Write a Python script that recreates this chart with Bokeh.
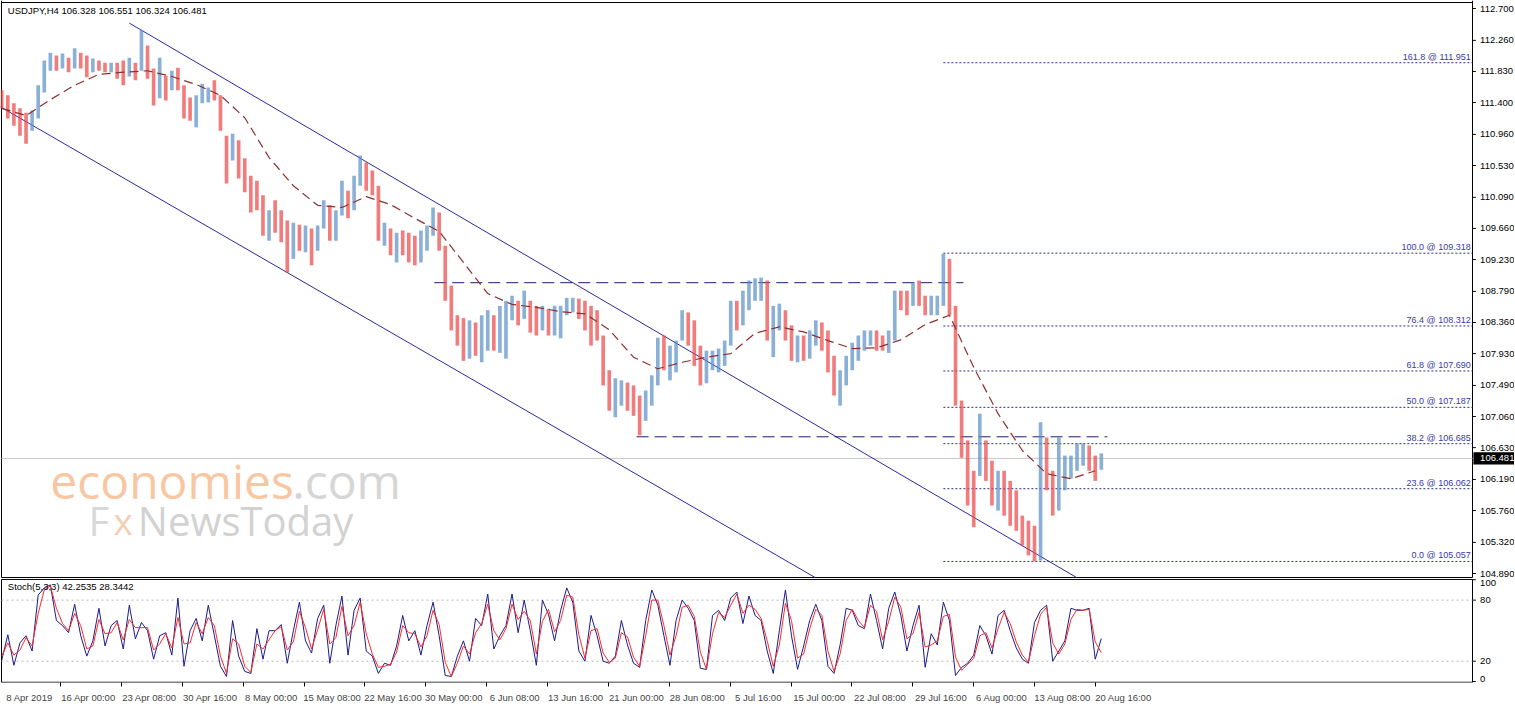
from bokeh.plotting import figure
from bokeh.layouts import column
from bokeh.models import FixedTicker, Label, Range1d
from bokeh.embed import file_html
from bokeh.resources import INLINE
from bokeh.core.properties import value

# ---------------- data ----------------
chart_title = "USDJPY,H4  106.328 106.551 106.324 106.481"
stoch_title = "Stoch(5,3,3) 42.2535 28.3442"
last_price = 106.481
first_open = 111.50

bar_high = [
    111.57, 111.50, 111.39, 111.32, 111.26, 111.29, 111.64, 111.98, 112.09, 112.05,
    112.08, 112.02, 112.15, 112.09, 112.05, 112.01, 111.98, 111.95, 111.95, 111.95,
    111.98, 112.02, 111.95, 112.40, 112.19, 111.87, 112.02, 111.77, 111.84, 111.88,
    111.64, 111.47, 111.50, 111.66, 111.61, 111.71, 111.50, 110.94, 110.97, 110.88,
    110.63, 110.39, 110.32, 110.12, 109.91, 110.05, 109.91, 109.77, 109.74, 109.71,
    109.70, 109.66, 109.70, 110.05, 109.98, 109.91, 110.32, 110.18, 110.39, 110.67,
    110.57, 110.46, 110.25, 109.74, 109.66, 109.60, 109.63, 109.60, 109.56, 109.63,
    109.70, 109.95, 109.88, 109.42, 108.87, 108.46, 108.42, 108.39, 108.36, 108.46,
    108.53, 108.46, 108.59, 108.66, 108.73, 108.66, 108.80, 108.66, 108.59, 108.59,
    108.55, 108.59, 108.59, 108.70, 108.70, 108.69, 108.66, 108.59, 108.53, 108.18,
    107.70, 107.59, 107.56, 107.53, 107.49, 107.35, 107.42, 107.63, 108.15, 108.18,
    108.04, 108.11, 108.53, 108.50, 108.39, 108.04, 107.97, 107.97, 108.00, 108.11,
    108.66, 108.66, 108.80, 108.94, 108.97, 108.98, 108.94, 108.59, 108.62, 108.53,
    108.32, 108.18, 108.18, 108.25, 108.39, 108.36, 108.25, 107.90, 107.70, 107.90,
    108.08, 108.18, 108.25, 108.25, 108.25, 108.18, 108.25, 108.80, 108.80, 108.80,
    108.91, 108.94, 108.73, 108.73, 108.73, 109.31, 109.24, 108.59, 107.28, 106.73,
    106.31, 107.10, 106.73, 106.45, 106.31, 106.31, 106.17, 106.04, 105.69, 105.62,
    105.55, 106.98, 106.77, 106.31, 106.77, 106.52, 106.52, 106.69, 106.69, 106.66,
    106.52, 106.551,
]
bar_low = [
    111.32, 111.18, 111.08, 110.94, 110.83, 111.01, 111.18, 111.54, 111.84, 111.84,
    111.87, 111.82, 111.87, 111.87, 111.75, 111.82, 111.84, 111.82, 111.82, 111.73,
    111.64, 111.76, 111.71, 111.84, 111.73, 111.36, 111.46, 111.43, 111.57, 111.57,
    111.18, 111.15, 111.06, 111.39, 111.40, 111.43, 111.01, 110.28, 110.60, 110.35,
    110.16, 109.88, 109.91, 109.56, 109.49, 109.60, 109.47, 109.05, 109.24, 109.35,
    109.33, 109.15, 109.35, 109.66, 109.49, 109.49, 109.84, 109.80, 109.91, 110.25,
    110.18, 110.12, 109.49, 109.42, 109.29, 109.19, 109.29, 109.19, 109.15, 109.19,
    109.35, 109.56, 109.35, 108.66, 108.25, 108.04, 107.83, 107.86, 107.90, 107.81,
    107.97, 107.97, 107.94, 107.86, 108.39, 108.32, 108.41, 108.22, 108.18, 108.25,
    108.18, 108.18, 108.14, 108.46, 108.50, 108.41, 108.25, 108.04, 108.11, 107.49,
    107.14, 107.05, 107.21, 107.14, 107.07, 106.80, 107.00, 107.21, 107.49, 107.70,
    107.56, 107.67, 108.11, 108.04, 107.76, 107.49, 107.52, 107.70, 107.67, 107.76,
    108.04, 108.25, 108.32, 108.53, 108.66, 108.66, 108.11, 107.88, 108.25, 108.11,
    107.83, 107.81, 107.83, 107.86, 108.04, 107.97, 107.67, 107.35, 107.21, 107.49,
    107.70, 107.83, 107.97, 108.04, 107.97, 107.97, 107.94, 108.11, 108.53, 108.46,
    108.59, 108.59, 108.46, 108.46, 108.46, 108.59, 108.46, 107.21, 106.49, 105.83,
    105.53, 106.24, 106.17, 105.83, 105.76, 105.69, 105.55, 105.48, 105.28, 105.14,
    105.06, 105.07, 106.04, 105.69, 105.76, 106.04, 106.20, 106.31, 106.38, 106.31,
    106.17, 106.324,
]
bar_close = [
    111.43, 111.26, 111.18, 111.04, 111.01, 111.22, 111.57, 111.91, 112.01, 111.95,
    111.98, 111.90, 112.01, 111.95, 111.82, 111.95, 111.90, 111.87, 111.90, 111.84,
    111.82, 111.95, 111.87, 112.19, 111.84, 111.64, 111.71, 111.59, 111.73, 111.64,
    111.32, 111.29, 111.43, 111.50, 111.54, 111.50, 111.06, 110.74, 110.88, 110.53,
    110.25, 110.12, 110.05, 109.70, 109.84, 109.77, 109.56, 109.29, 109.63, 109.56,
    109.56, 109.49, 109.63, 109.91, 109.70, 109.77, 110.12, 110.05, 110.25, 110.53,
    110.35, 110.25, 109.60, 109.63, 109.49, 109.49, 109.42, 109.35, 109.24, 109.49,
    109.63, 109.84, 109.42, 108.80, 108.39, 108.25, 107.97, 108.18, 108.04, 108.25,
    108.39, 108.11, 108.46, 108.53, 108.59, 108.53, 108.66, 108.46, 108.39, 108.46,
    108.32, 108.46, 108.50, 108.59, 108.66, 108.53, 108.46, 108.39, 108.18, 107.63,
    107.35, 107.42, 107.42, 107.28, 107.14, 107.00, 107.28, 107.56, 108.04, 107.83,
    107.83, 107.97, 108.39, 108.25, 107.97, 107.67, 107.83, 107.83, 107.90, 108.04,
    108.53, 108.39, 108.73, 108.80, 108.87, 108.91, 108.25, 108.32, 108.41, 108.32,
    107.97, 108.04, 107.97, 108.11, 108.25, 108.18, 107.76, 107.49, 107.49, 107.83,
    107.97, 108.04, 108.14, 108.18, 108.08, 108.04, 108.11, 108.73, 108.66, 108.59,
    108.80, 108.66, 108.59, 108.64, 108.66, 109.19, 108.59, 107.35, 106.66, 106.04,
    105.83, 106.66, 106.38, 105.97, 106.11, 105.90, 105.76, 105.62, 105.41, 105.28,
    105.21, 106.66, 106.31, 105.90, 106.18, 106.31, 106.38, 106.52, 106.59, 106.38,
    106.31, 106.481,
]

# moving average, one value every 4 bars of the series above
ma_step = 4
ma_values = [
    111.32, 111.22, 111.44, 111.64, 111.79, 111.82, 111.84, 111.76, 111.65, 111.50,
    111.19, 110.64, 110.25, 109.98, 109.95, 110.10, 109.99, 109.80, 109.62, 109.19,
    108.76, 108.61, 108.57, 108.51, 108.48, 108.26, 107.88, 107.72, 107.81, 107.88,
    107.93, 108.21, 108.30, 108.23, 108.11, 108.00, 108.01, 108.12, 108.33, 108.46,
    107.74, 107.10, 106.59, 106.27, 106.20, 106.31,
]

stoch_k = [
    21, 46, 16, 38, 45, 30, 85, 92, 95, 60,
    55, 48, 76, 45, 25, 40, 72, 35, 55, 60,
    32, 75, 42, 58, 50, 22, 45, 48, 26, 82,
    15, 50, 62, 40, 75, 45, 15, 5, 60, 25,
    10, 8, 52, 22, 50, 50, 56, 18, 50, 78,
    40, 28, 62, 75, 18, 55, 84, 26, 70, 82,
    30, 25, 8, 18, 16, 35, 65, 40, 50, 26,
    55, 78, 45, 6, 5, 25, 40, 20, 62, 55,
    86, 32, 45, 55, 86, 48, 80, 50, 16, 80,
    66, 40, 70, 92, 78, 30, 20, 65, 45, 20,
    18, 25, 60, 36, 18, 14, 60, 90, 75, 45,
    16, 60, 80, 72, 60, 13, 12, 65, 70, 60,
    82, 88, 57, 84, 65, 60, 30, 8, 50, 90,
    45, 12, 35, 60, 76, 60, 15, 8, 36, 72,
    70, 55, 52, 86, 60, 32, 72, 88, 65, 30,
    55, 75, 14, 47, 36, 78, 60, 6, 14, 18,
    26, 55, 45, 27, 65, 70, 50, 33, 22, 18,
    58, 70, 75, 20, 30, 40, 72, 70, 70, 72,
    22, 42.2535,
]
stoch_d = [
    25, 38, 26, 31, 43, 35, 67, 90, 94, 72,
    57, 50, 67, 55, 32, 35, 61, 47, 48, 58,
    41, 61, 53, 53, 53, 31, 37, 47, 33, 63,
    37, 38, 58, 47, 63, 55, 25, 8, 42, 37,
    15, 9, 37, 32, 41, 50, 54, 31, 39, 69,
    53, 32, 51, 71, 37, 43, 74, 45, 55, 78,
    47, 27, 14, 15, 17, 29, 55, 48, 47, 34,
    45, 70, 56, 19, 5, 18, 35, 27, 48, 57,
    76, 50, 41, 52, 76, 61, 69, 60, 27, 59,
    71, 49, 60, 85, 83, 46, 23, 50, 52, 28,
    19, 23, 48, 44, 24, 15, 45, 80, 80, 55,
    26, 45, 73, 75, 64, 29, 12, 47, 68, 63,
    75, 86, 67, 75, 71, 62, 40, 15, 36, 77,
    60, 23, 27, 52, 71, 65, 30, 10, 27, 60,
    71, 60, 53, 75, 69, 41, 59, 83, 73, 42,
    47, 68, 34, 36, 40, 64, 66, 24, 11, 17,
    23, 45, 48, 33, 52, 68, 57, 39, 26, 19,
    45, 66, 73, 38, 27, 37, 61, 71, 70, 71,
    39, 28.3442,
]

fib_ratios = [0.0, 23.6, 38.2, 50.0, 61.8, 76.4, 100.0, 161.8]
fib_prices = [105.057, 106.062, 106.685, 107.187, 107.690, 108.312, 109.318, 111.951]

price_ticks = [112.700, 112.260, 111.830, 111.400, 110.960, 110.530, 110.090, 109.660,
               109.230, 108.790, 108.360, 107.930, 107.490, 107.060, 106.630, 106.190,
               105.760, 105.320, 104.890]
stoch_ticks = [100, 80, 20, 0]
stoch_levels = [20, 80]
date_labels = ["8 Apr 2019", "16 Apr 00:00", "23 Apr 08:00", "30 Apr 16:00", "8 May 00:00",
               "15 May 08:00", "22 May 16:00", "30 May 00:00", "6 Jun 08:00", "13 Jun 16:00",
               "21 Jun 00:00", "28 Jun 08:00", "5 Jul 16:00", "15 Jul 00:00", "22 Jul 08:00",
               "29 Jul 16:00", "6 Aug 00:00", "13 Aug 08:00", "20 Aug 16:00"]

# drawing objects (anchors in bar index / price)
channel_upper = [(23.0, 112.40), (58.2, 110.67)]
channel_lower = [(0.0, 111.33), (47.0, 109.05)]
resistance = (71.2, 158.3, 108.91)
support = (104.5, 182.0, 106.78)
fib_start_bar = 155.0

# ---------------- styling / layout ----------------
FONT = "Liberation Sans"
FS = "9.5px"
UP = "#5a8fc6"
DOWN = "#ec4444"
NAVY = "#2b2b9e"
PX = 6.075                 # pixels per bar slot
X0 = -0.205                # left edge of the frame
W = 1514
X_END = 242.1              # where the price scale starts
X_LEFT = -0.04             # left border of the chart
x_range = Range1d(X0, X0 + W / PX)

n = len(bar_high)
idx = list(range(n))
opens = [first_open] + bar_close[:-1]
colors = [UP if c >= o else DOWN for o, c in zip(opens, bar_close)]

P_TOP, P_BOT = 112.811, 104.821
PANEL_BOT = 104.835
p1 = figure(width=W, height=578, x_range=x_range, y_range=Range1d(P_BOT, P_TOP),
            output_backend="svg", toolbar_location=None, x_axis_location=None,
            y_axis_location=None, min_border_left=0, min_border_right=0,
            min_border_top=0, min_border_bottom=0)
p1.grid.visible = False
p1.outline_line_color = None

# watermark
wm = [("economies", 8.0, 106.18, "#f8c7a2", "48px"),
      (".com", 47.8, 106.18, "#d6d6d6", "48px"),
      ("F", 14.3, 105.62, "#d8d8d8", "40px"),
      ("x", 18.4, 105.62, "#f3cfb5", "37px"),
      ("NewsToday", 22.4, 105.62, "#d2d2d2", "40px")]
for t, xx, yy, c, fs in wm:
    p1.add_layout(Label(x=xx, y=yy, text=t, text_color=c, text_font="Open Sans",
                        text_font_size=fs, text_baseline="alphabetic", level="underlay"))

# chart border and price scale line
p1.line([X_LEFT, X_LEFT], [PANEL_BOT, P_TOP], line_color="black", line_width=1)
p1.line([X_LEFT, X_END], [112.783, 112.783], line_color="black", line_width=1)
p1.line([X_LEFT, X_END], [PANEL_BOT, PANEL_BOT], line_color="black", line_width=1)
p1.line([X_END, X_END], [PANEL_BOT, P_TOP], line_color="black", line_width=1)

# current price line
p1.line([X_LEFT, X_END], [last_price, last_price], line_color="#c8c8c8", line_width=1)

# channel lines
for (xa, ya), (xb, yb) in (channel_upper, channel_lower):
    slope = (yb - ya) / (xb - xa)
    xe = xa + (PANEL_BOT - ya) / slope
    p1.line([xa - 2, xe], [ya - 2 * slope, PANEL_BOT], line_color=NAVY, line_width=1)

# horizontal support / resistance
for x0, x1, yv in (resistance, support):
    p1.line([x0, x1], [yv, yv], line_color="#1c1c6e", line_width=1, line_dash="12 6")

# fibonacci levels
p1.segment(x0=[fib_start_bar] * len(fib_prices), x1=[X_END] * len(fib_prices),
           y0=fib_prices, y1=fib_prices, line_color=NAVY, line_width=1, line_dash="2 2")
fib_text = [f"{r:.1f} @ {v:.3f}" for r, v in zip(fib_ratios, fib_prices)]
p1.text(x=[X_END - 0.3] * len(fib_prices), y=fib_prices, text=fib_text,
        text_align="right", text_baseline="bottom", text_font=value(FONT),
        text_font_size="9px", text_color="#3a3aa8", y_offset=-1)

# price bars
p1.vbar(x=idx, width=0.6, top=bar_high, bottom=bar_low, fill_color=colors,
        line_color=None, fill_alpha=0.7)

# moving average
ma_x = [i * ma_step for i in range(len(ma_values))]
p1.line(ma_x, ma_values, line_color="#8e2f2f", line_width=1.2, line_dash="9 5")

# price scale (ticks + labels)
p1.segment(x0=[X_END] * len(price_ticks), x1=[X_END + 0.55] * len(price_ticks),
           y0=price_ticks, y1=price_ticks, line_color="black", line_width=1)
p1.text(x=[X_END + 1.25] * len(price_ticks), y=price_ticks,
        text=[f"{t:.3f}" for t in price_ticks], text_baseline="middle",
        text_align="left", text_font=value(FONT), text_font_size=FS, text_color="black")
# current price marker
p1.quad(left=[X_END + 0.15], right=[X_END + 7.5], top=[last_price + 0.085],
        bottom=[last_price - 0.085], fill_color="black", line_color=None)
p1.text(x=[X_END + 1.25], y=[last_price], text=[f"{last_price:.3f}"],
        text_baseline="middle", text_align="left", text_font=value(FONT),
        text_font_size=FS, text_color="white")

p1.add_layout(Label(x=1.0, y=112.745, text=chart_title, text_baseline="top",
                    text_font=FONT, text_font_size=FS, text_color="black"))

# ---------------- stochastic panel ----------------
S_TOP, S_BOT = 101.24, -0.9
p2 = figure(width=W, height=127, x_range=x_range, y_range=Range1d(S_BOT, S_TOP),
            output_backend="svg", toolbar_location=None, y_axis_location=None,
            min_border_left=0, min_border_right=0, min_border_top=0, min_border_bottom=18)
p2.grid.visible = False
p2.outline_line_color = None

p2.line([X_LEFT, X_LEFT], [S_BOT, 100.3], line_color="black", line_width=1)
p2.line([X_LEFT, X_END], [100.3, 100.3], line_color="black", line_width=1)
p2.line([X_LEFT, X_END], [S_BOT + 0.05, S_BOT + 0.05], line_color="black", line_width=1.5)
p2.line([X_END, X_END], [S_BOT, 100.3], line_color="black", line_width=1)

for lv in stoch_levels:
    p2.line([X_LEFT, X_END], [lv, lv], line_color="#b8b8b8", line_width=1, line_dash="2 3")
p2.line(idx, stoch_k, line_color="#1c1c8c", line_width=1)
p2.line(idx, stoch_d, line_color="#ff2a2a", line_width=1)

p2.segment(x0=[X_END] * len(stoch_ticks), x1=[X_END + 0.55] * len(stoch_ticks),
           y0=stoch_ticks, y1=stoch_ticks, line_color="black", line_width=1)
p2.text(x=[X_END + 1.25] * len(stoch_ticks), y=stoch_ticks,
        text=[str(t) for t in stoch_ticks], text_baseline=["top", "middle", "middle", "bottom"],
        text_align="left", text_font=value(FONT), text_font_size=FS, text_color="black")
p2.add_layout(Label(x=1.0, y=99.0, text=stoch_title, text_baseline="top",
                    text_font=FONT, text_font_size=FS, text_color="black"))

label_start_px = [3] + [62 + 60.88 * k for k in range(len(date_labels) - 1)]
centers = [round((s + 26.0) / PX + X0, 2) for s in label_start_px]
ticks_minor = [round((s - 2.0) / PX + X0, 2) for s in label_start_px[1:]]
xax = p2.xaxis[0]
xax.ticker = FixedTicker(ticks=centers, minor_ticks=ticks_minor)
xax.major_label_overrides = {c: t for c, t in zip(centers, date_labels)}
xax.major_tick_line_color = None
xax.minor_tick_out = 4
xax.minor_tick_in = 0
xax.minor_tick_line_color = "black"
xax.major_label_text_font = FONT
xax.major_label_text_font_size = FS
xax.major_label_standoff = 3
xax.axis_line_color = None

layout = column(p1, p2, spacing=0)
open("out.html", "w").write(file_html(layout, INLINE))
